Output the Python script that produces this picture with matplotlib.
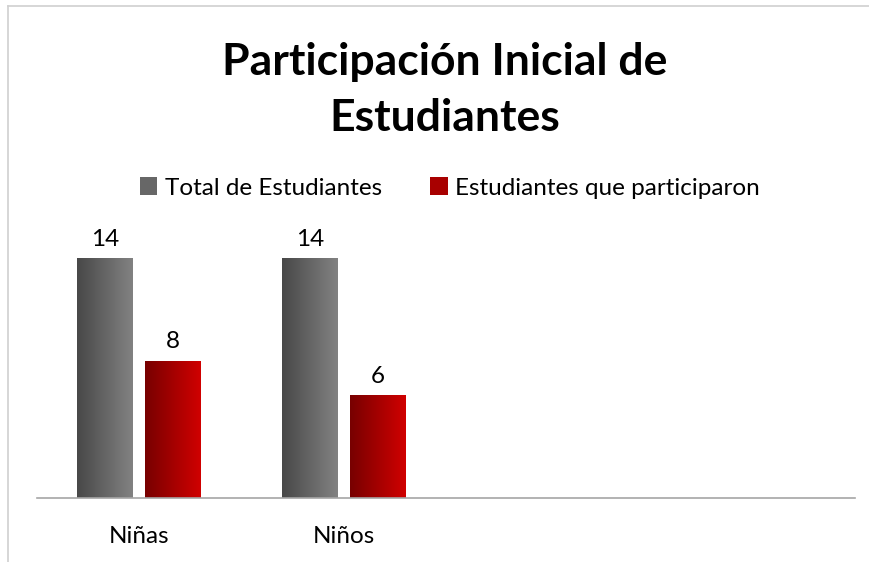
import matplotlib
matplotlib.use("Agg")
import matplotlib.pyplot as plt
import numpy as np
from matplotlib.colors import LinearSegmentedColormap
from matplotlib.patches import Patch
from matplotlib.lines import Line2D

plt.rcParams['font.family'] = ['Lato', 'DejaVu Sans']

categories = ['Niñas', 'Niños', '', '']
total = [14, 14, None, None]
participaron = [8, 6, None, None]
series_names = ['Total de Estudiantes', 'Estudiantes que participaron']

gray_cmap = LinearSegmentedColormap.from_list('g', ['#484848', '#828282'])
red_cmap = LinearSegmentedColormap.from_list('r', ['#780000', '#d00000'])

W, H = 870, 562
fig = plt.figure(figsize=(W / 100, H / 100), dpi=100)
ax = fig.add_axes([37 / W, (H - 498) / H, (855 - 37) / W, (498 - 224) / H])

x = np.arange(len(categories))
bw = 56 / 204.5
gap = 12 / 204.5
vals1 = [v if v is not None else 0 for v in total]
vals2 = [v if v is not None else 0 for v in participaron]
b1 = ax.bar(x - (bw + gap) / 2, vals1, bw, color='none')
b2 = ax.bar(x + (bw + gap) / 2, vals2, bw, color='none')

grad = np.linspace(0, 1, 64).reshape(1, -1)
for bars, cmap, vals in [(b1, gray_cmap, total), (b2, red_cmap, participaron)]:
    for rect, v in zip(bars, vals):
        if v is None:
            continue
        x0, w, h = rect.get_x(), rect.get_width(), rect.get_height()
        ax.imshow(grad, cmap=cmap, aspect='auto', extent=(x0, x0 + w, 0, h), zorder=2)
        ax.text(x0 + w / 2, h + 0.5, str(v), ha='center', va='bottom', fontsize=17.5)

ax.set_xlim(-0.5, len(categories) - 0.5)
ax.set_ylim(0, 16)
ax.set_xticks(x)
ax.set_xticklabels(categories, fontsize=17.5)
ax.tick_params(axis='x', length=0, pad=20)
ax.set_yticks([])
for s in ['top', 'right', 'left']:
    ax.spines[s].set_visible(False)
ax.spines['bottom'].set_color('#a6a6a6')
ax.spines['bottom'].set_linewidth(1.2)
ax.patch.set_alpha(0)

fig.text(445 / W, 1 - 90 / H, 'Participación Inicial de\nEstudiantes', ha='center', va='center',
         fontsize=32, fontweight='bold', linespacing=1.5)

handles = [Patch(facecolor='#676767'), Patch(facecolor='#a80000')]
fig.legend(handles, series_names, loc='center', bbox_to_anchor=(450 / W, 1 - 188 / H), ncol=2,
           frameon=False, fontsize=17.5, handlelength=0.7, handleheight=0.7,
           handletextpad=0.3, columnspacing=2.0)

fig.add_artist(Line2D([8 / W, 8 / W], [0, 1 - 6 / H], color='#d0d0d0', lw=1.2))
fig.add_artist(Line2D([8 / W, 1], [1 - 6 / H, 1 - 6 / H], color='#d0d0d0', lw=1.2))

fig.savefig('out.png', dpi=100)
